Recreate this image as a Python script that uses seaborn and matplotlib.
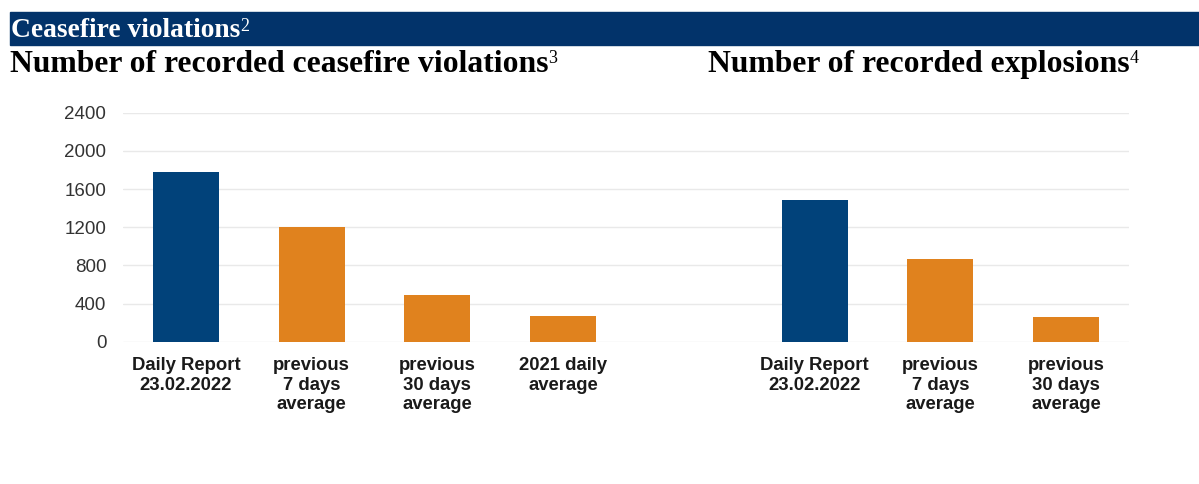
import pandas as pd
import matplotlib.pyplot as plt
import seaborn as sns

# ==========================================================
# DATA
# ==========================================================

cv_labels = [
    "Daily Report\n23.02.2022",
    "previous\n7 days\naverage",
    "previous\n30 days\naverage",
    "2021 daily\naverage",
]
cv_values = [1780, 1200, 490, 270]

ex_labels = [
    "Daily Report\n23.02.2022",
    "previous\n7 days\naverage",
    "previous\n30 days\naverage",
]
ex_values = [1482, 864, 258]

y_ticks = [0, 400, 800, 1200, 1600, 2000, 2400]

header = "Ceasefire violations"
title_cv = "Number of recorded ceasefire violations"
title_ex = "Number of recorded explosions"

NAVY = "#01427A"
ORANGE = "#E0821E"
BAND = "#02336A"

# ==========================================================
# TABLE
# ==========================================================

cv_slots = [f"cv{i}" for i in range(len(cv_values))]
ex_slots = [f"ex{i}" for i in range(len(ex_values))]

df = pd.DataFrame({
    "slot": cv_slots + ex_slots,
    "value": cv_values + ex_values,
    "kind": (["daily"] + ["average"] * (len(cv_values) - 1)
             + ["daily"] + ["average"] * (len(ex_values) - 1)),
})

# empty slot between the two groups
order = cv_slots + ["gap"] + ex_slots
tick_labels = cv_labels + [""] + ex_labels

# ==========================================================
# PLOT
# ==========================================================

sns.set_theme(style="white")

fig = plt.figure(figsize=(11.99, 4.84), dpi=100)
ax = fig.add_axes([0.1026, 0.294, 0.839, 0.473])

sns.barplot(
    data=df,
    x="slot",
    y="value",
    hue="kind",
    order=order,
    palette={"daily": NAVY, "average": ORANGE},
    saturation=1,
    dodge=False,
    width=0.525,
    legend=False,
    linewidth=0,
    ax=ax,
)

ax.set_ylim(0, 2400)
ax.set_yticks(y_ticks)
ax.set_xticks(range(len(order)))
ax.set_xticklabels(tick_labels)
ax.set_xlabel("")
ax.set_ylabel("")

ax.yaxis.grid(True, color="#e9e9e9", linewidth=1)
ax.set_axisbelow(True)
sns.despine(ax=ax, left=True, bottom=True)

ax.tick_params(axis="y", length=0, pad=12, labelsize=13.5, labelcolor="#333333")
ax.tick_params(axis="x", length=0, pad=11, labelsize=13.3, labelcolor="#1a1a1a")
for lbl in ax.get_xticklabels():
    lbl.set_fontweight("bold")
    lbl.set_fontfamily("Liberation Sans")
for lbl in ax.get_yticklabels():
    lbl.set_fontfamily("Liberation Sans")

# ==========================================================
# HEADER AND TITLES
# ==========================================================

band = plt.Rectangle((10 / 1199, 1 - 45 / 484), 1, 33 / 484,
                     transform=fig.transFigure, color=BAND, zorder=-1)
fig.patches.append(band)

serif = "Liberation Serif"

t0 = fig.text(11 / 1199, 1 - 37 / 484, header, color="white",
              fontsize=19.8, fontweight="bold", family=serif, va="baseline")
ax.annotate("2", xy=(1, 1), xycoords=t0, va="top", ha="left",
            color="white", fontsize=13, family=serif)

t1 = fig.text(10 / 1199, 1 - 72 / 484, title_cv, color="black",
              fontsize=22.8, fontweight="bold", family=serif, va="baseline")
ax.annotate("3", xy=(1, 1), xycoords=t1, va="top", ha="left",
            color="black", fontsize=13, family=serif)

t2 = fig.text(708 / 1199, 1 - 72 / 484, title_ex, color="black",
              fontsize=22.8, fontweight="bold", family=serif, va="baseline")
ax.annotate("4", xy=(1, 1), xycoords=t2, va="top", ha="left",
            color="black", fontsize=13, family=serif)

fig.savefig("out.png", dpi=100, facecolor="white")
